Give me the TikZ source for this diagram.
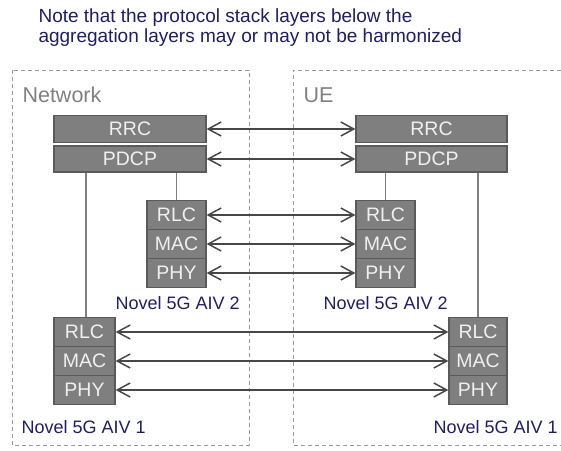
\documentclass[tikz,border=0pt]{standalone}
\usepackage{fontspec}
\setmainfont{Liberation Sans}
\usetikzlibrary{arrows.meta}
\definecolor{layerfill}{HTML}{7F7F7F}
\definecolor{layeredge}{HTML}{5A5A5A}
\definecolor{notenavy}{HTML}{1E1E62}
\definecolor{framegray}{HTML}{9A9A9A}
\tikzset{
  layer/.style={rectangle,draw=layeredge,fill=layerfill,line width=1.2pt,inner sep=0pt,
    text=white!94!black,font=\fontsize{19.5}{19.5}\selectfont},
  peerlink/.style={{Straight Barb[length=13pt,width=14pt]}-{Straight Barb[length=13pt,width=14pt]},
    draw=black!72,line width=1.5pt},
  stackline/.style={draw=black!50,line width=1.4pt},
  sideframe/.style={draw=framegray,dashed,line width=0.9pt,dash pattern=on 4pt off 3pt},
  sidename/.style={anchor=west,text=black!50,font=\fontsize{21.5}{21.5}\selectfont},
  aivname/.style={anchor=west,text=notenavy,font=\fontsize{18}{18}\selectfont}
}

\begin{document}
\begin{tikzpicture}[x=1pt,y=-1pt]
    \useasboundingbox (0,0) rectangle (561,450);
    \draw[sideframe] (12,70) rectangle (249,445);
    \draw[sideframe] (561,70) -- (293,70) -- (293,445) -- (561,445);
    \node[anchor=north west,align=left,text=notenavy,font=\fontsize{19}{19.5}\selectfont] (note) at (35,5.5)
        {Note that the protocol stack layers below the\\aggregation layers may or may not be harmonized};
    \node[sidename] (network) at (19,95) {Network};
    \node[sidename] (ue) at (300,95) {UE};

    \node[layer,minimum width=152pt,minimum height=27pt] (nrrc) at (130,129) {RRC};
    \node[layer,minimum width=152pt,minimum height=26pt] (npdcp) at (130,159) {PDCP};
    \node[layer,minimum width=151pt,minimum height=27pt] (urrc) at (431.5,129) {RRC};
    \node[layer,minimum width=151pt,minimum height=26pt] (updcp) at (431.5,159) {PDCP};

    \node[layer,minimum width=59pt,minimum height=29pt] (nrlc2) at (176.5,215) {RLC};
    \node[layer,minimum width=59pt,minimum height=29pt] (nmac2) at (176.5,244) {MAC};
    \node[layer,minimum width=59pt,minimum height=29pt] (nphy2) at (176.5,273) {PHY};
    \node[layer,minimum width=59pt,minimum height=29pt] (urlc2) at (385.5,215) {RLC};
    \node[layer,minimum width=59pt,minimum height=29pt] (umac2) at (385.5,244) {MAC};
    \node[layer,minimum width=59pt,minimum height=29pt] (uphy2) at (385.5,273) {PHY};

    \node[layer,minimum width=61pt,minimum height=29pt] (nrlc1) at (84.5,332) {RLC};
    \node[layer,minimum width=61pt,minimum height=29pt] (nmac1) at (84.5,361) {MAC};
    \node[layer,minimum width=61pt,minimum height=29pt] (nphy1) at (84.5,390) {PHY};
    \node[layer,minimum width=58pt,minimum height=29pt] (urlc1) at (478,332) {RLC};
    \node[layer,minimum width=58pt,minimum height=29pt] (umac1) at (478,361) {MAC};
    \node[layer,minimum width=58pt,minimum height=29pt] (uphy1) at (478,390) {PHY};

    \node[aivname] (naiv2) at (112,303) {Novel 5G AIV 2};
    \node[aivname] (uaiv2) at (320,303) {Novel 5G AIV 2};
    \node[aivname] (naiv1) at (18,427) {Novel 5G AIV 1};
    \node[aivname] (uaiv1) at (430,427) {Novel 5G AIV 1};

    \draw[stackline] (npdcp.south -| nrlc2.north) -- (nrlc2.north);
    \draw[stackline] (updcp.south -| urlc2.north) -- (urlc2.north);
    \draw[stackline] (npdcp.south -| nrlc1.north) ++(1.5,0) coordinate (ntap) -- (ntap |- nrlc1.north);
    \draw[stackline] (updcp.south -| urlc1.north) -- (urlc1.north);

    \draw[peerlink] (nrrc) -- (urrc);
    \draw[peerlink] (npdcp) -- (updcp);
    \draw[peerlink] (nrlc2) -- (urlc2);
    \draw[peerlink] (nmac2) -- (umac2);
    \draw[peerlink] (nphy2) -- (uphy2);
    \draw[peerlink] (nrlc1) -- (urlc1);
    \draw[peerlink] (nmac1) -- (umac1);
    \draw[peerlink] (nphy1) -- (uphy1);
\end{tikzpicture}
\end{document}
